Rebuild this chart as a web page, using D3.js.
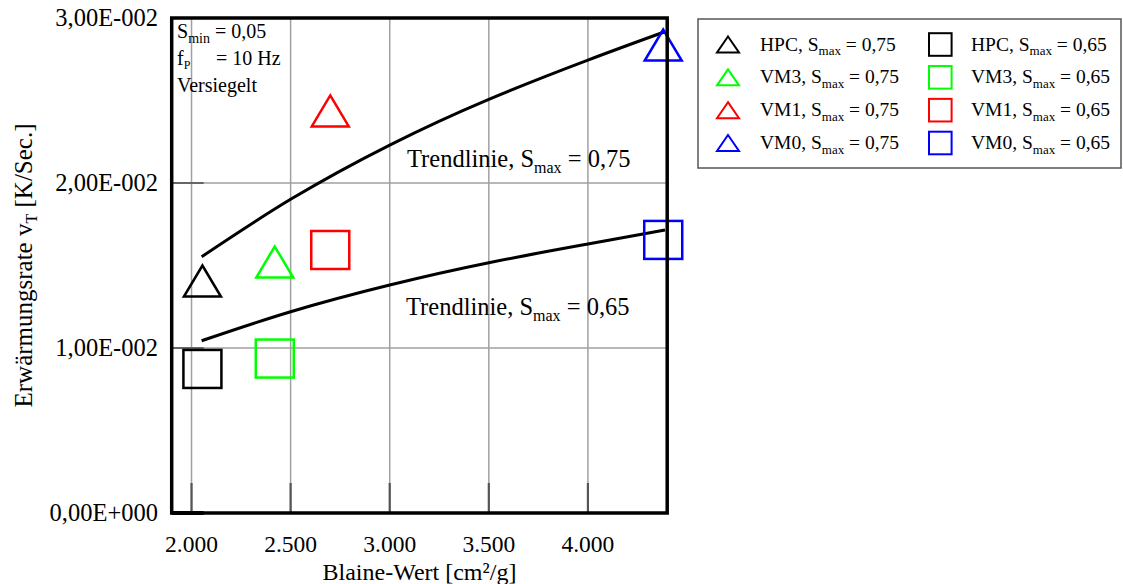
<!DOCTYPE html>
<html><head><meta charset="utf-8">
<script src="https://cdn.jsdelivr.net/npm/d3@7"></script>
<style>
html,body{margin:0;padding:0;background:#fff;}
svg{display:block;font-family:"Liberation Serif","Times New Roman",serif;}
</style></head>
<body>
<svg id="chart" width="1123" height="584"></svg>
<script>
// ---- data ----
const materials = ["HPC", "VM3", "VM1", "VM0"];
const colors = ["#000000", "#00ff00", "#ff0000", "#0000ff"];
const blaine = [2055, 2420, 2700, 4380];
const rate075 = [0.01406, 0.01521, 0.02437, 0.02836];
const rate065 = [0.00873, 0.00936, 0.01594, 0.01655];
const trendX = [2051, 2500, 3000, 3500, 4000, 4389];
const trend075 = [0.01553, 0.01901, 0.02230, 0.02507, 0.02745, 0.02917];
const trend065 = [0.01044, 0.01220, 0.01382, 0.01517, 0.01630, 0.01715];
const xTicks = [2000, 2500, 3000, 3500, 4000];
const xTickLabels = ["2.000", "2.500", "3.000", "3.500", "4.000"];
const yTicks = [0, 0.01, 0.02, 0.03];
const yTickLabels = ["0,00E+000", "1,00E-002", "2,00E-002", "3,00E-002"];

const svg = d3.select("#chart");
const x = d3.scaleLinear().domain([1900, 4400]).range([171.7, 667.2]);
const y = d3.scaleLinear().domain([0, 0.03]).range([513, 18]);

// gridlines
svg.append("g").selectAll("line").data(xTicks).join("line")
  .attr("x1", d => x(d)).attr("x2", d => x(d))
  .attr("y1", y(0.03)).attr("y2", y(0))
  .attr("stroke", "#a0a0a0").attr("stroke-width", 1.5);
svg.append("g").selectAll("line").data(yTicks.filter(d => d > 0 && d < 0.03)).join("line")
  .attr("x1", x(1900)).attr("x2", x(4400))
  .attr("y1", d => y(d)).attr("y2", d => y(d))
  .attr("stroke", "#a0a0a0").attr("stroke-width", 1.5);

// inner ticks
svg.append("g").selectAll("line").data(xTicks).join("line")
  .attr("x1", d => x(d)).attr("x2", d => x(d))
  .attr("y1", y(0) - 30).attr("y2", y(0))
  .attr("stroke", "#555").attr("stroke-width", 2.2);
svg.append("g").selectAll("line").data(yTicks.filter(d => d < 0.03)).join("line")
  .attr("x1", x(1900)).attr("x2", x(1900) + 32)
  .attr("y1", d => y(d)).attr("y2", d => y(d))
  .attr("stroke", d => d === 0 ? "#000" : "#666").attr("stroke-width", d => d === 0 ? 4 : 2.2);

// tick labels
svg.append("g").selectAll("text").data(yTicks).join("text")
  .attr("x", 158).attr("y", d => y(d)).attr("dy", "0.34em")
  .attr("text-anchor", "end").attr("font-size", 24.5).attr("fill", "#000")
  .text((d, i) => yTickLabels[i]);
svg.append("g").selectAll("text").data(xTicks).join("text")
  .attr("x", d => x(d)).attr("y", 552)
  .attr("text-anchor", "middle").attr("font-size", 23.5).attr("fill", "#000")
  .text((d, i) => xTickLabels[i]);

// axis titles
svg.append("text").attr("x", (x(1900) + x(4400)) / 2).attr("y", 580)
  .attr("text-anchor", "middle").attr("font-size", 24).text("Blaine-Wert [cm²/g]");
const yt = svg.append("text")
  .attr("transform", `translate(32,${(y(0) + y(0.03)) / 2}) rotate(-90)`)
  .attr("text-anchor", "middle").attr("font-size", 25);
yt.append("tspan").text("Erwärmungsrate v");
yt.append("tspan").attr("font-size", 16).attr("dy", 5).text("T");
yt.append("tspan").attr("dy", -5).text(" [K/Sec.]");

// trendlines
const line = d3.line().x(d => x(d[0])).y(d => y(d[1])).curve(d3.curveNatural);
[trend075, trend065].forEach(t => {
  svg.append("path").datum(trendX.map((v, i) => [v, t[i]]))
    .attr("d", line).attr("fill", "none").attr("stroke", "#000").attr("stroke-width", 3);
});

// markers
function triPath(cx, cy, w, h) {
  return `M${cx},${cy - h / 2}L${cx + w / 2},${cy + h / 2}L${cx - w / 2},${cy + h / 2}Z`;
}
svg.append("g").selectAll("path").data(materials).join("path")
  .attr("d", (m, i) => triPath(x(blaine[i]), y(rate075[i]), 37, 31))
  .attr("fill", "none").attr("stroke", (m, i) => colors[i]).attr("stroke-width", 2.5);
svg.append("g").selectAll("rect").data(materials).join("rect")
  .attr("x", (m, i) => x(blaine[i]) - 19).attr("y", (m, i) => y(rate065[i]) - 19)
  .attr("width", 38).attr("height", 38)
  .attr("fill", "none").attr("stroke", (m, i) => colors[i]).attr("stroke-width", 2.5);

// frame
svg.append("rect").attr("x", x(1900)).attr("y", y(0.03))
  .attr("width", x(4400) - x(1900)).attr("height", y(0) - y(0.03))
  .attr("fill", "none").attr("stroke", "#000").attr("stroke-width", 3.5);

// annotation
const a1 = svg.append("text").attr("x", 177).attr("y", 38).attr("font-size", 20);
a1.append("tspan").text("S");
a1.append("tspan").attr("font-size", 14).attr("dy", 5).text("min");
a1.append("tspan").attr("dy", -5).text(" = 0,05");
const a2 = svg.append("text").attr("x", 177).attr("y", 65).attr("font-size", 20);
a2.append("tspan").text("f");
a2.append("tspan").attr("font-size", 12).attr("dy", 4).text("P");
svg.append("text").attr("x", 216).attr("y", 65).attr("font-size", 20).text("= 10 Hz");
svg.append("text").attr("x", 177).attr("y", 92).attr("font-size", 20).text("Versiegelt");

// trendline labels
function smaxLabel(xp, yp, prefix, val, fs, sfs) {
  const t = svg.append("text").attr("x", xp).attr("y", yp).attr("font-size", fs);
  t.append("tspan").text(prefix + "S");
  t.append("tspan").attr("font-size", sfs).attr("dy", fs * 0.25).text("max");
  t.append("tspan").attr("dy", -fs * 0.25).text(" = " + val);
}
smaxLabel(407, 167, "Trendlinie, ", "0,75", 24.5, 16);
smaxLabel(406, 315, "Trendlinie, ", "0,65", 24.5, 16);

// legend
svg.append("rect").attr("x", 698).attr("y", 19).attr("width", 423).attr("height", 149)
  .attr("fill", "#fff").attr("stroke", "#555").attr("stroke-width", 1.5);
const rowY = d3.scalePoint().domain(materials).range([44.5, 143]);
materials.forEach((m, i) => {
  const cy = rowY(m);
  svg.append("path").attr("d", triPath(728, cy, 22, 16))
    .attr("fill", "none").attr("stroke", colors[i]).attr("stroke-width", 2);
  smaxLabel(760, cy + 6, m + ", ", "0,75", 19.5, 13);
  svg.append("rect").attr("x", 929).attr("y", cy - 11.3).attr("width", 22.6).attr("height", 22.6)
    .attr("fill", "none").attr("stroke", colors[i]).attr("stroke-width", 2);
  smaxLabel(971, cy + 6, m + ", ", "0,65", 19.5, 13);
});
</script>
</body></html>
